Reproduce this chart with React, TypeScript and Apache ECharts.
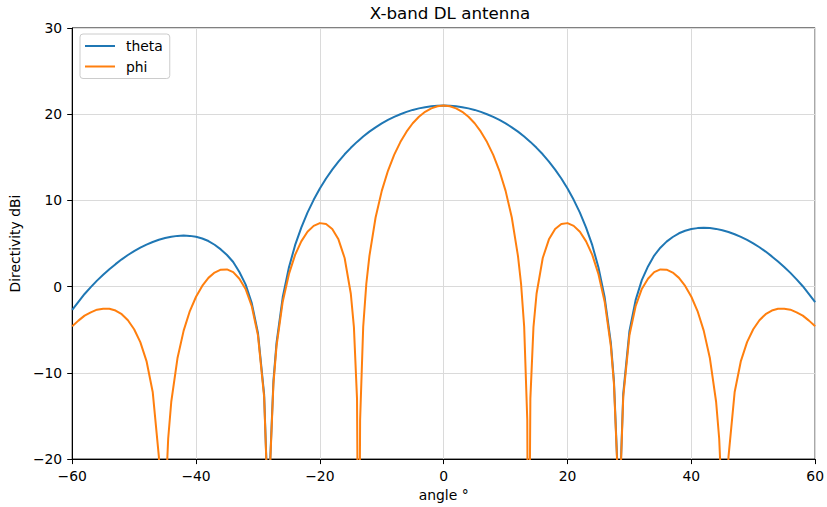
import React, { useEffect, useRef } from "react";
import * as echarts from "echarts";

// Angles (degrees) and directivity values (dBi)
const thetaAngles = [
  -60, -59, -58, -57, -56, -55, -54, -53, -52, -51, -50, -49, -48, -47, -46, -45,
  -44, -43, -42, -41, -40, -39, -38, -37, -36, -35, -34, -33, -32, -31, -30, -29,
  -28.5, -28.3, -28, -27.5,
  -27, -26, -25, -24, -23, -22, -21, -20, -19, -18, -17, -16, -15, -14, -13, -12,
  -11, -10, -9, -8, -7, -6, -5, -4, -3, -2, -1, 0, 1, 2, 3, 4, 5, 6, 7, 8, 9, 10,
  11, 12, 13, 14, 15, 16, 17, 18, 19, 20, 21, 22, 23, 24, 25, 26, 27,
  27.5, 28, 28.3, 28.5,
  29, 30, 31, 32, 33, 34, 35, 36, 37, 38, 39, 40, 41, 42, 43, 44, 45, 46, 47, 48,
  49, 50, 51, 52, 53, 54, 55, 56, 57, 58, 59, 60,
];
const thetaValues = [
  -2.7, -1.76, -0.85, -0.05, 0.7, 1.37, 2.01, 2.61, 3.17, 3.67, 4.12, 4.52, 4.88, 5.18, 5.44, 5.64,
  5.8, 5.89, 5.92, 5.89, 5.78, 5.58, 5.29, 4.86, 4.32, 3.67, 2.86, 1.7, 0.26, -1.91, -5.36, -12.53,
  -23.1, -45, -19.8, -10.94,
  -6.52, -1.23, 2.22, 4.81, 6.85, 8.58, 10.07, 11.38, 12.54, 13.57, 14.51, 15.35, 16.1, 16.79, 17.41, 17.98,
  18.48, 18.94, 19.34, 19.7, 20.0, 20.27, 20.5, 20.68, 20.82, 20.92, 20.98, 21.0, 20.98, 20.92, 20.82, 20.68, 20.5, 20.27, 20.0, 19.7, 19.34, 18.94,
  18.48, 17.98, 17.41, 16.79, 16.1, 15.35, 14.51, 13.57, 12.54, 11.38, 10.07, 8.58, 6.85, 4.81, 2.22, -1.23, -6.52,
  -10.94, -19.8, -45, -23.0,
  -12.43, -5.16, -1.56, 0.76, 2.35, 3.61, 4.52, 5.22, 5.76, 6.19, 6.48, 6.68, 6.79, 6.82, 6.79, 6.7, 6.54, 6.34, 6.08, 5.78,
  5.42, 5.02, 4.57, 4.07, 3.51, 2.91, 2.27, 1.6, 0.85, 0.05, -0.86, -1.8,
];

const phiAngles = [
  -60, -59, -58, -57, -56, -55, -54, -53, -52, -51, -50, -49, -48, -47, -46,
  -45.5, -45.3, -45, -44.5,
  -44, -43, -42, -41, -40, -39, -38, -37, -36, -35, -34, -33, -32, -31, -30, -29,
  -28.5, -28.3, -28, -27.5,
  -27, -26, -25, -24, -23, -22, -21, -20, -19, -18, -17, -16, -15,
  -14.5, -14, -13.7, -13.5, -13, -12.5,
  -12, -11, -10, -9, -8, -7, -6, -5, -4, -3, -2, -1, 0, 1, 2, 3, 4, 5, 6, 7, 8, 9, 10, 11, 12,
  12.5, 13, 13.5, 13.7, 14, 14.5,
  15, 16, 17, 18, 19, 20, 21, 22, 23, 24, 25, 26, 27,
  27.5, 28, 28.3, 28.5,
  29, 30, 31, 32, 33, 34, 35, 36, 37, 38, 39, 40, 41, 42, 43, 44,
  44.5, 45, 45.3, 45.5,
  46, 47, 48, 49, 50, 51, 52, 53, 54, 55, 56, 57, 58, 59, 60,
];
const phiValues = [
  -4.59, -3.94, -3.36, -2.98, -2.67, -2.55, -2.57, -2.77, -3.19, -3.89, -4.94, -6.43, -8.63, -12.21, -19.75,
  -30.9, -45, -25.8, -17.64,
  -13.35, -8.31, -5.1, -2.83, -1.17, 0.09, 1.02, 1.63, 1.97, 2.0, 1.68, 0.92, -0.26, -2.27, -5.65, -12.8,
  -23.3, -45, -20.1, -11.27,
  -6.89, -1.74, 1.45, 3.68, 5.25, 6.36, 7.05, 7.37, 7.26, 6.69, 5.49, 3.32, -0.82,
  -4.69, -12.99, -45, -15.47, -4.65, 0.31,
  3.55, 8.02, 11.11, 13.44, 15.29, 16.77, 17.98, 18.95, 19.71, 20.28, 20.68, 20.92, 21.0, 20.92, 20.68, 20.28, 19.71, 18.95, 17.98, 16.77, 15.29, 13.44, 11.11, 8.02, 3.55,
  0.31, -4.65, -15.47, -45, -12.99, -4.69,
  -0.82, 3.32, 5.49, 6.69, 7.26, 7.37, 7.05, 6.36, 5.25, 3.68, 1.45, -1.74, -6.89,
  -11.27, -20.1, -45, -23.3,
  -12.8, -5.65, -2.27, -0.26, 0.92, 1.68, 2.0, 1.97, 1.63, 1.02, 0.09, -1.17, -2.83, -5.1, -8.31, -13.35,
  -17.64, -25.8, -45, -30.9,
  -19.75, -12.21, -8.63, -6.43, -4.94, -3.89, -3.19, -2.77, -2.57, -2.55, -2.67, -2.98, -3.36, -3.94, -4.59,
];

const xRange = [-60, 60];
const yRange = [-20, 30];
const FONT = "DejaVu Sans";

const fmt = (v: number) => String(v).replace("-", "\u2212");

export default function App() {
  const ref = useRef<HTMLDivElement>(null);
  useEffect(() => {
    if (!ref.current) return;
    const chart = echarts.init(ref.current, undefined, { renderer: "svg" });
    const axisCommon = {
      type: "value",
      nameLocation: "middle",
      nameTextStyle: { fontFamily: FONT, fontSize: 13.9, color: "#000" },
      axisLine: { show: true, onZero: false, lineStyle: { color: "#000", width: 1 } },
      axisTick: { show: true, length: 5, lineStyle: { color: "#000", width: 1 } },
      axisLabel: { margin: 10, fontFamily: FONT, fontSize: 13.9, color: "#000", formatter: fmt },
      splitLine: { show: true, lineStyle: { color: "#dadada", width: 1 } },
    };
    chart.setOption({
      animation: false,
      backgroundColor: "#ffffff",
      title: {
        text: "X-band DL antenna",
        left: 445,
        top: -1,
        textAlign: "center",
        textStyle: { fontFamily: FONT, fontSize: 16.7, fontWeight: "normal", color: "#000" },
      },
      legend: {
        orient: "vertical",
        left: 80,
        top: 34,
        padding: [5, 7, 5, 5],
        icon: "rect",
        itemWidth: 30,
        itemHeight: 2,
        itemGap: 6.5,
        backgroundColor: "rgba(255,255,255,0.8)",
        borderColor: "#cccccc",
        borderWidth: 1,
        borderRadius: 3,
        textStyle: { fontFamily: FONT, fontSize: 13.9, lineHeight: 14, color: "#000", padding: [0, 0, 0, 6] },
        data: ["theta", "phi"],
      },
      grid: {
        left: 72,
        right: 9,
        top: 28,
        bottom: 46,
        containLabel: false,
        show: true,
        borderColor: "#000",
        borderWidth: 1,
        backgroundColor: "transparent",
      },
      xAxis: {
        ...axisCommon,
        min: xRange[0],
        max: xRange[1],
        interval: 20,
        name: "angle \u00b0",
        nameGap: 28,
      },
      yAxis: {
        ...axisCommon,
        min: yRange[0],
        max: yRange[1],
        interval: 10,
        name: "Directivity dBi",
        nameGap: 42,
      },
      series: [
        {
          name: "theta",
          type: "line",
          data: thetaAngles.map((a, i) => [a, thetaValues[i]]),
          symbol: "none",
          smooth: false,
          clip: true,
          lineStyle: { color: "#1f77b4", width: 2, join: "round" },
          itemStyle: { color: "#1f77b4" },
        },
        {
          name: "phi",
          type: "line",
          data: phiAngles.map((a, i) => [a, phiValues[i]]),
          symbol: "none",
          smooth: false,
          clip: true,
          lineStyle: { color: "#ff7f0e", width: 2, join: "round" },
          itemStyle: { color: "#ff7f0e" },
        },
      ],
    });
    return () => chart.dispose();
  }, []);
  return (
    <div
      ref={ref}
      style={{ position: "fixed", left: 0, top: 0, width: 827, height: 507, background: "#fff" }}
    />
  );
}
